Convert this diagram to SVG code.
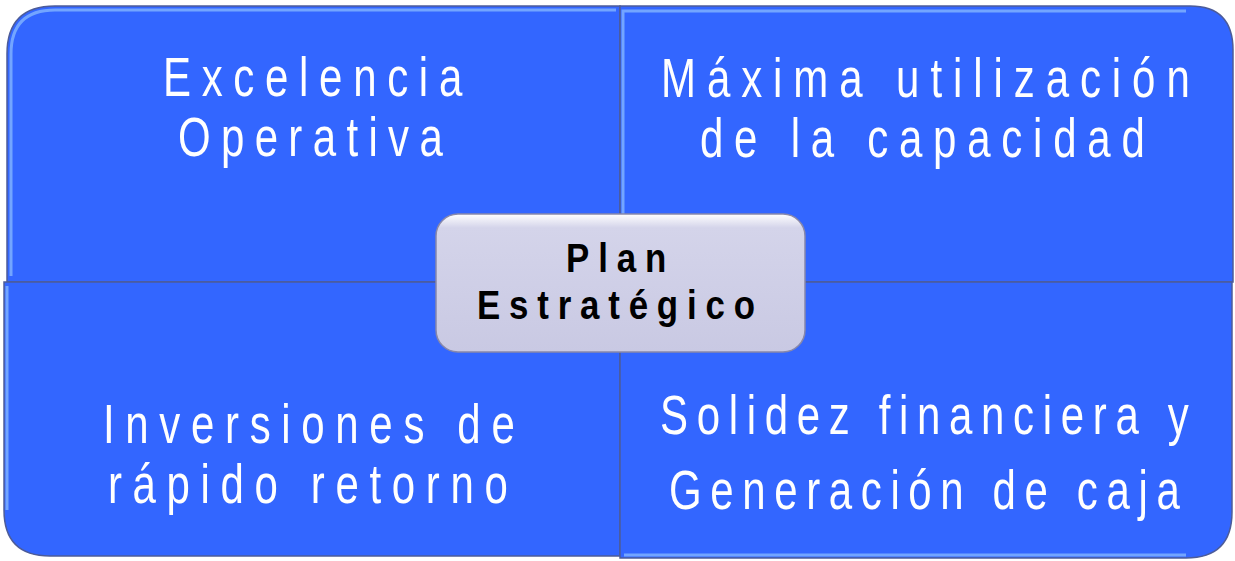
<svg xmlns="http://www.w3.org/2000/svg" width="1235" height="561" viewBox="0 0 1235 561">
<defs>
<linearGradient id="ctr" x1="0" y1="0" x2="0" y2="1">
<stop offset="0" stop-color="#ffffff"/><stop offset="0.1" stop-color="#d4d4ea"/><stop offset="1" stop-color="#c9c9e3"/>
</linearGradient>
<style>
.q{fill:#3366ff;stroke:#4d5c99;stroke-width:1.5}
.hi{fill:none;stroke:#8fc0ff;stroke-width:3;opacity:0.7}
.t{font-family:"Liberation Sans",Arial,sans-serif;font-size:56px;fill:#ffffff}
.c{font-family:"Liberation Sans",Arial,sans-serif;font-size:41px;font-weight:bold;fill:#000000}
</style>
</defs>
<rect width="1235" height="561" fill="#ffffff"/>
<g id="q-tl">
<path class="q" d="M620,6 H55 Q7,6 7,54 V282 H620 Z"/>
<path class="hi" d="M11,276 V54 Q11,10 55,10 H616"/>
<text class="t" transform="translate(163,96) scale(0.75,1)" textLength="399" lengthAdjust="spacing">Excelencia</text>
<text class="t" transform="translate(178,156) scale(0.75,1)" textLength="353" lengthAdjust="spacing">Operativa</text>
</g>
<g id="q-tr">
<path class="q" d="M620,6 H1190 Q1233,6 1233,50 V282 H620 Z"/>
<path class="hi" d="M623,278 V11 H1186"/>
<text class="t" transform="translate(661,97) scale(0.75,1)" textLength="705" lengthAdjust="spacing">Máxima utilización</text>
<text class="t" transform="translate(700,157) scale(0.75,1)" textLength="593" lengthAdjust="spacing">de la capacidad</text>
</g>
<g id="q-bl">
<path class="q" d="M4,282 H620 V556 H50 Q4,556 4,510 Z"/>
<path class="hi" d="M7,286 V510"/>
<text class="t" transform="translate(103,443) scale(0.75,1)" textLength="549" lengthAdjust="spacing">Inversiones de</text>
<text class="t" transform="translate(108,503) scale(0.75,1)" textLength="533" lengthAdjust="spacing">rápido retorno</text>
</g>
<g id="q-br">
<path class="q" d="M620,282 H1232 V512 Q1232,558 1186,558 H620 Z"/>
<path class="hi" d="M624,555 H1186"/>
<text class="t" transform="translate(660,434) scale(0.75,1)" textLength="705" lengthAdjust="spacing">Solidez financiera y</text>
<text class="t" transform="translate(669,509) scale(0.75,1)" textLength="681" lengthAdjust="spacing">Generación de caja</text>
</g>
<g id="center">
<rect x="436" y="214" width="369" height="138" rx="22" fill="url(#ctr)" stroke="#8888aa" stroke-width="1.5"/>
<text class="c" transform="translate(566,272) scale(0.85,1)" textLength="118" lengthAdjust="spacing">Plan</text>
<text class="c" transform="translate(477,319) scale(0.85,1)" textLength="327" lengthAdjust="spacing">Estratégico</text>
</g>
</svg>
